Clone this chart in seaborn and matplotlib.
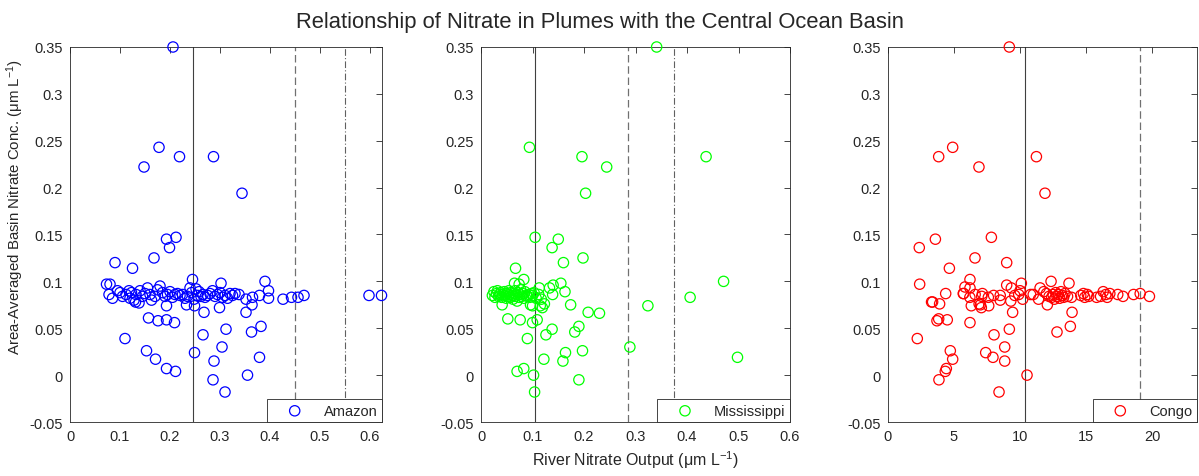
import numpy as np
import matplotlib
matplotlib.use("Agg")
import matplotlib.pyplot as plt
from matplotlib.ticker import FuncFormatter
import seaborn as sns

sns.set_style("white")
plt.rcParams['font.family'] = ['Liberation Sans', 'DejaVu Sans']
plt.rcParams['mathtext.fontset'] = 'custom'
plt.rcParams['mathtext.rm'] = 'Liberation Sans'
plt.rcParams['mathtext.default'] = 'regular'

# ---- data (x = river nitrate output, y = basin nitrate) ----
amazon_x = [0.206, 0.178, 0.219, 0.287, 0.148, 0.344, 0.193, 0.212, 0.199, 0.168,
            0.090, 0.125, 0.245, 0.390, 0.302, 0.073, 0.080, 0.397, 0.426, 0.443,
            0.456, 0.468, 0.598, 0.623, 0.365, 0.379, 0.397, 0.352, 0.364, 0.352,
            0.268, 0.299, 0.249, 0.233, 0.193, 0.138, 0.131, 0.157, 0.176, 0.193,
            0.209, 0.382, 0.312, 0.363, 0.110, 0.266, 0.304, 0.153, 0.249, 0.171,
            0.379, 0.288, 0.193, 0.211, 0.355, 0.286, 0.310,
            0.078, 0.085, 0.095, 0.100, 0.105, 0.112, 0.118, 0.120, 0.123, 0.128,
            0.132, 0.140, 0.145, 0.150, 0.155, 0.160, 0.163, 0.170, 0.175, 0.180,
            0.185, 0.190, 0.195, 0.200, 0.205, 0.210, 0.215, 0.220, 0.225, 0.230,
            0.235, 0.240, 0.243, 0.248, 0.252, 0.255, 0.258, 0.262, 0.266, 0.270,
            0.275, 0.280, 0.285, 0.290, 0.295, 0.300, 0.305, 0.310, 0.315, 0.320,
            0.325, 0.330, 0.338]
amazon_y = [0.350, 0.243, 0.233, 0.233, 0.222, 0.194, 0.145, 0.147, 0.136, 0.125,
            0.120, 0.114, 0.102, 0.100, 0.098, 0.097, 0.097, 0.090, 0.081, 0.083,
            0.083, 0.085, 0.085, 0.085, 0.083, 0.085, 0.082, 0.081, 0.075, 0.067,
            0.067, 0.072, 0.074, 0.075, 0.074, 0.077, 0.078, 0.061, 0.058, 0.059,
            0.056, 0.052, 0.049, 0.046, 0.039, 0.043, 0.030, 0.026, 0.024, 0.017,
            0.019, 0.015, 0.007, 0.004, 0.000, -0.005, -0.018,
            0.086, 0.082, 0.090, 0.088, 0.084, 0.086, 0.090, 0.082, 0.088, 0.080,
            0.086, 0.090, 0.084, 0.087, 0.093, 0.086, 0.080, 0.084, 0.091, 0.095,
            0.088, 0.084, 0.086, 0.089, 0.083, 0.086, 0.087, 0.085, 0.086, 0.082,
            0.084, 0.093, 0.088, 0.081, 0.092, 0.085, 0.089, 0.084, 0.086, 0.083,
            0.085, 0.087, 0.090, 0.084, 0.086, 0.088, 0.083, 0.085, 0.082, 0.087,
            0.085, 0.087, 0.086]

miss_x = [0.341, 0.094, 0.196, 0.437, 0.244, 0.203, 0.105, 0.150, 0.138, 0.198,
          0.160, 0.067, 0.083, 0.471, 0.065, 0.074, 0.155, 0.140, 0.133, 0.113,
          0.163, 0.139, 0.406, 0.324, 0.174, 0.115, 0.123, 0.119, 0.208, 0.230,
          0.052, 0.076, 0.109, 0.100, 0.190, 0.182, 0.138, 0.126, 0.090, 0.289,
          0.197, 0.164, 0.498, 0.122, 0.159, 0.070, 0.083, 0.102, 0.190, 0.104,
          0.100, 0.096, 0.041,
          0.022, 0.025, 0.027, 0.030, 0.032, 0.034, 0.036, 0.038, 0.040, 0.042,
          0.045, 0.047, 0.049, 0.050, 0.052, 0.054, 0.055, 0.057, 0.058, 0.060,
          0.062, 0.063, 0.065, 0.066, 0.068, 0.070, 0.072, 0.074, 0.075, 0.077,
          0.079, 0.081, 0.083, 0.085, 0.088, 0.090, 0.093, 0.095, 0.098, 0.100,
          0.103, 0.107, 0.112, 0.117]
miss_y = [0.350, 0.243, 0.233, 0.233, 0.222, 0.194, 0.147, 0.145, 0.136, 0.125,
          0.120, 0.114, 0.102, 0.100, 0.098, 0.097, 0.098, 0.096, 0.093, 0.093,
          0.089, 0.086, 0.083, 0.074, 0.075, 0.074, 0.076, 0.072, 0.067, 0.066,
          0.060, 0.059, 0.059, 0.056, 0.052, 0.046, 0.049, 0.043, 0.039, 0.030,
          0.026, 0.024, 0.019, 0.017, 0.015, 0.004, 0.007, 0.000, -0.005, -0.018,
          0.074, 0.075, 0.075,
          0.085, 0.089, 0.083, 0.087, 0.090, 0.084, 0.086, 0.088, 0.083, 0.086,
          0.089, 0.085, 0.082, 0.087, 0.084, 0.090, 0.086, 0.083, 0.088, 0.085,
          0.081, 0.087, 0.084, 0.090, 0.086, 0.079, 0.088, 0.083, 0.086, 0.091,
          0.084, 0.087, 0.082, 0.089, 0.085, 0.084, 0.086, 0.083, 0.087, 0.085,
          0.088, 0.082, 0.086, 0.081]

congo_x = [9.19, 4.90, 3.84, 11.24, 6.89, 11.89, 7.83, 3.59, 2.37, 6.59,
           8.99, 4.65, 6.21, 12.35, 2.40, 8.99, 13.71, 10.10, 5.83, 6.21,
           5.73, 4.37, 7.15, 9.34, 11.52, 3.30, 3.38, 3.91, 6.31, 7.07,
           7.63, 9.44, 13.94, 12.07, 3.84, 3.71, 4.49, 6.21, 13.81, 9.19,
           12.80, 8.03, 2.22, 8.84, 4.72, 7.40, 4.90, 7.95, 8.84, 4.42,
           4.34, 10.53, 3.86, 8.41,
           7.10, 7.60, 8.00, 8.50, 8.50, 9.30, 9.60, 9.90, 10.20, 10.00,
           10.80, 11.00, 11.40, 11.80, 12.00, 12.20, 12.40, 12.50, 12.60, 12.70,
           12.80, 12.90, 13.00, 13.10, 13.20, 13.30, 13.40, 13.60, 13.90, 14.60,
           14.80, 14.90, 15.10, 15.20, 15.80, 16.10, 16.30, 16.50, 16.60, 16.80,
           17.40, 17.80, 18.60, 19.10, 19.80, 6.20, 6.60, 7.00, 6.90, 5.70]
congo_y = [0.350, 0.243, 0.233, 0.233, 0.222, 0.194, 0.147, 0.145, 0.136, 0.125,
           0.120, 0.114, 0.102, 0.100, 0.097, 0.096, 0.098, 0.098, 0.094, 0.093,
           0.087, 0.087, 0.087, 0.093, 0.093, 0.078, 0.078, 0.076, 0.074, 0.072,
           0.074, 0.067, 0.067, 0.075, 0.060, 0.058, 0.059, 0.056, 0.052, 0.049,
           0.046, 0.043, 0.039, 0.030, 0.026, 0.024, 0.017, 0.019, 0.015, 0.007,
           0.004, 0.000, -0.005, -0.018,
           0.084, 0.083, 0.085, 0.085, 0.080, 0.079, 0.085, 0.086, 0.081, 0.090,
           0.086, 0.086, 0.081, 0.089, 0.087, 0.084, 0.083, 0.086, 0.081, 0.088,
           0.084, 0.086, 0.082, 0.089, 0.085, 0.083, 0.087, 0.084, 0.083, 0.085,
           0.087, 0.083, 0.086, 0.084, 0.083, 0.084, 0.089, 0.086, 0.083, 0.087,
           0.086, 0.084, 0.086, 0.087, 0.084, 0.083, 0.086, 0.075, 0.076, 0.087]

rivers = ["Amazon", "Mississippi", "Congo"]
xs = [amazon_x, miss_x, congo_x]
ys = [amazon_y, miss_y, congo_y]
colors = ["#0000FF", "#00FF00", "#FF0000"]
x_limits = [0.624, 0.6, 23.4]
x_ticks = [[0, 0.1, 0.2, 0.3, 0.4, 0.5, 0.6],
           [0, 0.1, 0.2, 0.3, 0.4, 0.5, 0.6],
           [0, 5, 10, 15, 20]]
y_ticks = [-0.05, 0, 0.05, 0.1, 0.15, 0.2, 0.25, 0.3, 0.35]
# reference lines: solid, dashed, dash-dot (None where absent)
solid_lines = [0.245, 0.105, 10.35]
dashed_lines = [0.45, 0.285, 19.1]
dashdot_lines = [0.55, 0.375, None]

fig = plt.figure(figsize=(11.99, 4.77), dpi=100)
positions = [[0.0584, 0.1132, 0.2602, 0.7862],
             [0.4012, 0.1132, 0.2577, 0.7862],
             [0.7406, 0.1132, 0.2577, 0.7862]]

fmt = FuncFormatter(lambda v, p: f"{v:g}")
axes = []
for i in range(3):
    ax = fig.add_axes(positions[i])
    axes.append(ax)
    ax.axvline(solid_lines[i], color="#404040", lw=0.8, ls="-", zorder=1)
    ax.axvline(dashed_lines[i], color="#707070", lw=0.9, ls=(0, (6, 3)), zorder=1)
    if dashdot_lines[i] is not None:
        ax.axvline(dashdot_lines[i], color="#606060", lw=0.8, ls=(0, (6, 2, 1, 2)), zorder=1)
    sns.scatterplot(x=xs[i], y=ys[i], ax=ax, marker="o", s=55,
                    facecolors="none", edgecolor=colors[i], linewidth=0.9,
                    label=rivers[i], zorder=3, clip_on=False)
    ax.set_xlim(0, x_limits[i])
    ax.set_ylim(-0.05, 0.35)
    ax.set_xticks(x_ticks[i])
    ax.set_yticks(y_ticks)
    ax.xaxis.set_major_formatter(fmt)
    ax.yaxis.set_major_formatter(fmt)
    ax.tick_params(direction="in", length=4, width=0.6, labelsize=10.5,
                   colors="#262626", top=True, right=True, pad=5)
    for sp in ax.spines.values():
        sp.set_color("#262626")
        sp.set_linewidth(0.6)
        sp.set_visible(True)
    leg = ax.legend(loc="lower right", borderaxespad=0, fancybox=False,
                    edgecolor="#262626", fontsize=10.5, handlelength=3.2,
                    handletextpad=0.4, borderpad=0.3, framealpha=1)
    leg.get_frame().set_linewidth(0.6)

axes[0].set_ylabel("Area-Averaged Basin Nitrate Conc. (μm L$^{-1}$)", fontsize=10.8, color="#262626")
axes[0].yaxis.set_label_coords(-0.14, 0.575)
axes[1].set_xlabel("River Nitrate Output (μm L$^{-1}$)", fontsize=11.5, color="#262626", labelpad=4)
fig.suptitle("Relationship of Nitrate in Plumes with the Central Ocean Basin",
             fontsize=15.8, y=0.953, x=0.5, va="center")

fig.savefig("out.png", dpi=100)
